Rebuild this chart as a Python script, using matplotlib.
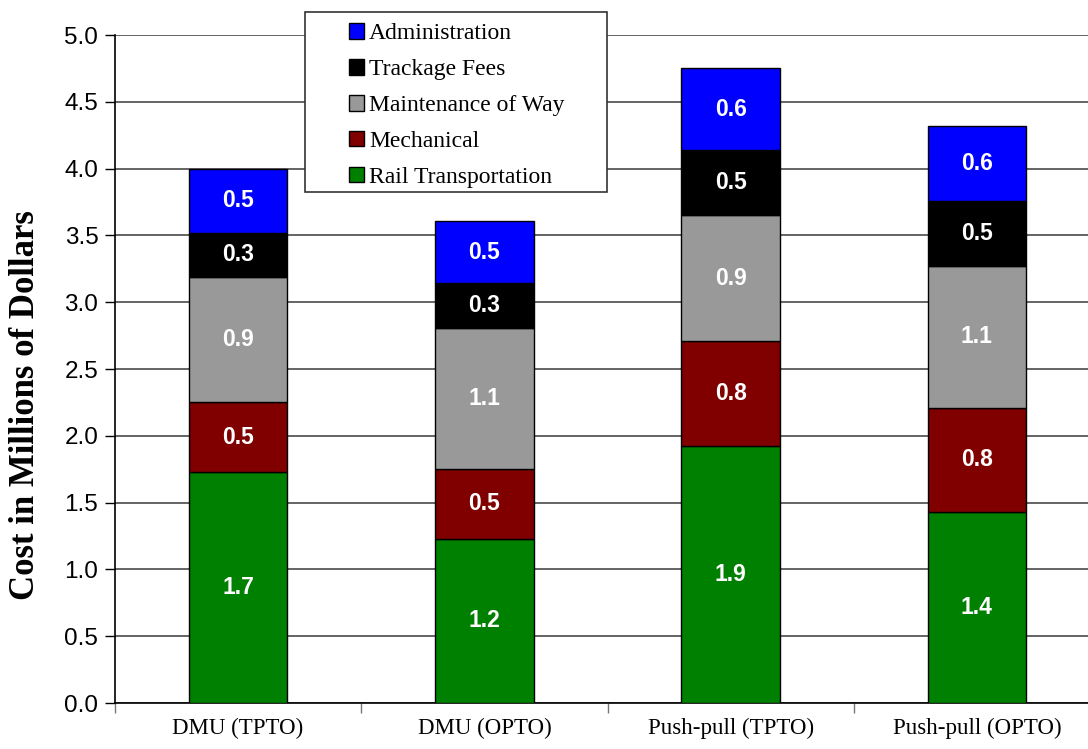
import matplotlib
matplotlib.use("Agg")
import matplotlib.pyplot as plt
from matplotlib.patches import Rectangle
import numpy as np

# Cost breakdown (millions of dollars) per operating scenario
categories = ["DMU (TPTO)", "DMU (OPTO)", "Push-pull (TPTO)", "Push-pull (OPTO)"]
rail_transportation = [1.73, 1.23, 1.92, 1.43]
mechanical = [0.52, 0.52, 0.79, 0.78]
maintenance_of_way = [0.94, 1.06, 0.94, 1.06]
trackage_fees = [0.33, 0.33, 0.49, 0.49]
administration = [0.48, 0.47, 0.61, 0.56]

series = [
    ("Rail Transportation", rail_transportation, "#008000"),
    ("Mechanical", mechanical, "#800000"),
    ("Maintenance of Way", maintenance_of_way, "#999999"),
    ("Trackage Fees", trackage_fees, "#000000"),
    ("Administration", administration, "#0000FF"),
]

W, H = 1088, 749
fig = plt.figure(figsize=(W / 100, H / 100), dpi=100)
ax = fig.add_axes([115 / W, 1 - 703 / H, 985 / W, 668 / H])

x = np.arange(len(categories))
bottom = np.zeros(len(categories))
handles = {}
for name, vals, color in series:
    vals = np.asarray(vals)
    bars = ax.bar(x, vals, width=0.4, bottom=bottom, color=color,
                  edgecolor="black", linewidth=1.0, label=name, zorder=3)
    ax.bar_label(bars, labels=[f"{v:.1f}" for v in vals], label_type="center",
                 color="white", fontsize=16.5, fontweight="bold",
                 family="Liberation Sans", zorder=4)
    handles[name] = bars
    bottom += vals

ax.set_xlim(-0.5, len(categories) - 0.5)
ax.set_ylim(0, 5.0)
ax.set_yticks(np.arange(0, 5.01, 0.5))
ax.set_yticklabels([f"{v:.1f}" for v in np.arange(0, 5.01, 0.5)],
                   family="Liberation Sans", fontsize=17.5)
ax.set_xticks(x)
ax.set_xticklabels(categories, family="Liberation Serif", fontsize=16.5)
ax.set_xticks(np.arange(-0.5, len(categories), 1.0), minor=True)
ax.tick_params(axis="x", which="major", length=0, pad=11)
ax.tick_params(axis="x", which="minor", length=7, width=1.0, color="#777777",
               direction="out")
ax.tick_params(axis="y", which="major", length=7, width=1.0, color="black",
               direction="out", pad=5)

ax.yaxis.grid(True, color="#4a4a4a", linewidth=1.2, zorder=0)
ax.set_axisbelow(True)
for side in ("top", "right"):
    ax.spines[side].set_visible(False)
ax.spines["left"].set_linewidth(1.2)
ax.spines["bottom"].set_linewidth(1.2)

ax.set_ylabel("Cost in Millions of Dollars", family="Liberation Serif",
              fontsize=25, fontweight="bold")
ax.yaxis.set_label_coords(-0.074, 0.446)

# Legend with stacking order reversed (top segment first)
order = ["Administration", "Trackage Fees", "Maintenance of Way",
         "Mechanical", "Rail Transportation"]
leg = fig.legend([handles[n] for n in order], order,
                 loc="center left", bbox_to_anchor=(349 / W, 1 - 105.5 / H),
                 frameon=False, borderpad=0, borderaxespad=0,
                 labelspacing=0.62,
                 handlelength=0.65, handleheight=0.65, handletextpad=0.2,
                 prop={"family": "Liberation Serif", "size": 17})
fig.add_artist(Rectangle((305 / W, 1 - 192 / H), 302 / W, 180 / H,
                         transform=fig.transFigure, facecolor="white",
                         edgecolor="#333333", linewidth=1.2, zorder=2))
leg.set_zorder(5)

fig.savefig("out.png", dpi=100)
